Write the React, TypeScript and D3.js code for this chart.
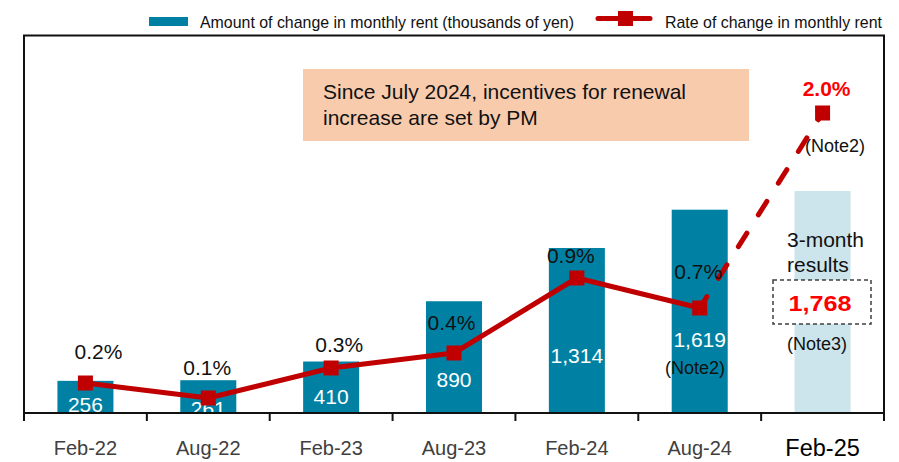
import React from "react";
import * as d3 from "d3";

const categories = ["Feb-22", "Aug-22", "Feb-23", "Aug-23", "Feb-24", "Aug-24", "Feb-25"];
const amountValues = [256, 261, 410, 890, 1314, 1619, 1768];
const rateValues = [0.2, 0.1, 0.3, 0.4, 0.9, 0.7, 2.0];
const legendLabels = ["Amount of change in monthly rent (thousands of yen)", "Rate of change in monthly rent"];
const boxNote = ["Since July 2024, incentives for renewal", "increase are set by PM"];
const lastBarText = ["3-month", "results"];

// layout tweaks (pixels) for label placement, mirroring the hand-placed labels
const rateLabelOffset: [number, number][] = [[13, -24], [-1, -23], [8, -16], [-2.5, -23], [-6, -15], [-1.5, -29], [4, -17]];
const barLabelRise = [1, -3, 9, 26, 50, 66];

const W = 899, H = 462;
const L = 24, R = 884, T = 35, B = 413;
const FONT = "'Liberation Sans', Arial, sans-serif";
const BLUE = "#0081A4";
const LIGHT = "#CCE4EC";
const RED = "#C00000";

export default function App() {
  const x = d3.scaleBand<string>().domain(categories).range([L, R]).paddingInner(0.544).paddingOuter(0.272);
  const yAmt = d3.scaleLinear().domain([0, 3010]).range([B, T]);
  const yRate = d3.scaleLinear().domain([0, 2.52]).range([B, T]);
  const cx = (i: number) => (x(categories[i]) as number) + x.bandwidth() / 2;
  const fmt = d3.format(",");
  const n = categories.length;
  const last = n - 1;

  const solidPts: [number, number][] = rateValues.slice(0, last).map((v, i) => [cx(i), yRate(v)]);
  const dashPts: [number, number][] = [[cx(last - 1), yRate(rateValues[last - 1])], [cx(last), yRate(rateValues[last])]];
  const line = d3.line();
  const ticks = d3.range(n + 1).map((i) => L + i * x.step());

  return (
    <svg width={W} height={H} style={{ position: "absolute", left: 0, top: 0, background: "#fff" }} fontFamily={FONT}>
      {/* legend */}
      <rect x={149} y={17} width={39} height={9} fill={BLUE} />
      <text x={200} y={28} fontSize={17} fill="#111" textLength={374} lengthAdjust="spacingAndGlyphs">{legendLabels[0]}</text>
      <line x1={598} x2={650} y1={18.5} y2={18.5} stroke={RED} strokeWidth={5} strokeLinecap="round" />
      <rect x={618} y={11} width={15} height={15} fill={RED} />
      <text x={665} y={28} fontSize={17} fill="#111" textLength={217} lengthAdjust="spacingAndGlyphs">{legendLabels[1]}</text>

      {/* note box */}
      <rect x={303} y={69} width={446} height={72} fill="#F8CBAD" />
      <text x={323} y={99} fontSize={21} fill="#111">{boxNote[0]}</text>
      <text x={323} y={125} fontSize={21} fill="#111">{boxNote[1]}</text>

      {/* bars */}
      {amountValues.map((v, i) => (
        <rect key={categories[i]} x={x(categories[i])} y={yAmt(v)} width={x.bandwidth()} height={B - yAmt(v)} fill={i === last ? LIGHT : BLUE} />
      ))}
      {amountValues.slice(0, last).map((v, i) => (
        <text key={"bl" + i} x={cx(i)} y={B - barLabelRise[i]} fontSize={21} fill="#fff" textAnchor="middle">{fmt(v)}</text>
      ))}

      {/* last bar annotations */}
      <text x={787} y={247} fontSize={21} fill="#111">{lastBarText[0]}</text>
      <text x={787} y={272} fontSize={21} fill="#111">{lastBarText[1]}</text>
      <rect x={773} y={280} width={98} height={44} fill="#fff" stroke="#404040" strokeWidth={1.5} strokeDasharray="4,3" />
      <text x={cx(last) - 2.5} y={311} fontSize={22} fontWeight="bold" fill="#FF0000" textAnchor="middle" textLength={63} lengthAdjust="spacingAndGlyphs">{fmt(amountValues[last])}</text>
      <text x={817} y={350} fontSize={18} fill="#111" textAnchor="middle">(Note3)</text>
      <text x={695} y={374} fontSize={18} fill="#111" textAnchor="middle">(Note2)</text>
      <text x={835} y={152} fontSize={18} fill="#111" textAnchor="middle">(Note2)</text>

      {/* rate line */}
      <path d={line(solidPts) as string} fill="none" stroke={RED} strokeWidth={5} strokeLinejoin="round" />
      <path d={line(dashPts) as string} fill="none" stroke={RED} strokeWidth={5} strokeDasharray="16,21.5" strokeDashoffset={2.5} strokeLinecap="round" />
      {rateValues.map((v, i) => (
        <rect key={"m" + i} x={cx(i) - 7.5} y={yRate(v) - 7.5} width={15} height={15} fill={RED} />
      ))}
      {rateValues.map((v, i) => (
        <text key={"rl" + i} x={cx(i) + rateLabelOffset[i][0]} y={yRate(v) + rateLabelOffset[i][1]} fontSize={21}
          fill={i === last ? "#FF0000" : "#111"} fontWeight={i === last ? "bold" : "normal"} textAnchor="middle">
          {v.toFixed(1) + "%"}
        </text>
      ))}

      {/* frame & axis */}
      <rect x={L} y={T + 0.5} width={R - L} height={B - T - 0.5} fill="none" stroke="#111" strokeWidth={2} />
      {ticks.map((t, i) => (
        <line key={"t" + i} x1={t} x2={t} y1={B} y2={421} stroke="#111" strokeWidth={2} />
      ))}
      {categories.map((c, i) => (
        <text key={"c" + i} x={cx(i)} y={i === last ? 456 : 455} fontSize={i === last ? 23.5 : 20}
          fill={i === last ? "#000" : "#404040"} textAnchor="middle">{c}</text>
      ))}
    </svg>
  );
}
